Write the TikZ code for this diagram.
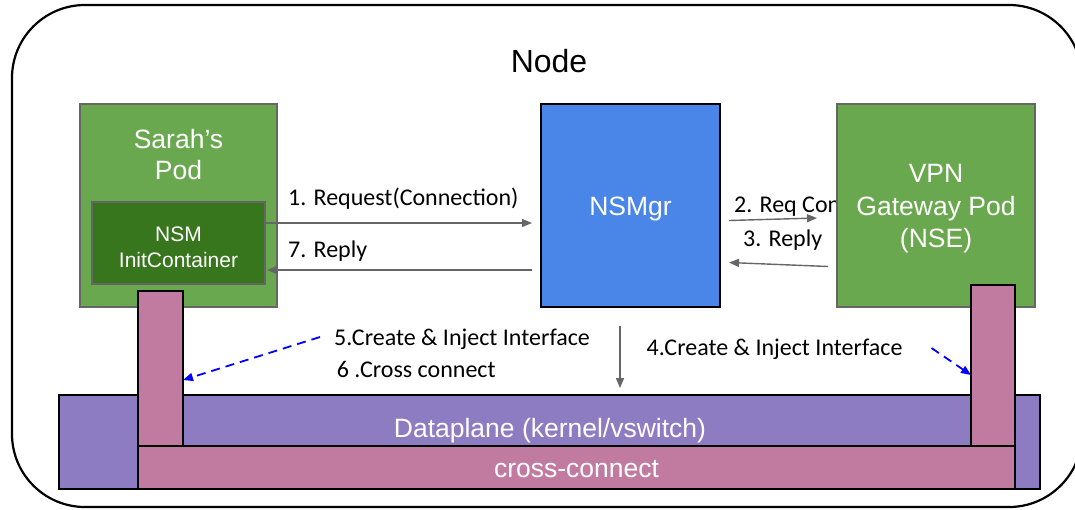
\documentclass[tikz,border=0pt]{standalone}
\usepackage{fontspec}
\setmainfont{Liberation Sans}
\newfontfamily\calibrifont{Carlito}
\usetikzlibrary{arrows.meta,calc}
\definecolor{podgreen}{HTML}{6AA84F}
\definecolor{initgreen}{HTML}{38761D}
\definecolor{mgrblue}{HTML}{4A86E8}
\definecolor{dppurple}{HTML}{8E7CC3}
\definecolor{xcpink}{HTML}{C27BA0}
\definecolor{edgegray}{HTML}{666666}
\begin{document}
\begin{tikzpicture}[x=1pt,y=-1pt,
  blockbox/.style={rectangle, inner sep=0pt, outer sep=0pt, anchor=north west},
  podbox/.style={blockbox, fill=podgreen, draw=edgegray, line width=1.3pt},
  initbox/.style={blockbox, fill=initgreen, draw=edgegray, line width=1.3pt},
  mgrbox/.style={blockbox, fill=mgrblue, draw=black, line width=1.5pt},
  planebox/.style={blockbox, fill=dppurple, draw=black, line width=1.8pt},
  xcbox/.style={blockbox, fill=xcpink, draw=black, line width=1.8pt},
  bigtext/.style={text=white, inner sep=0pt, anchor=base, font=\fontsize{26.5}{30}\selectfont},
  smalltext/.style={text=white, inner sep=0pt, anchor=base, font=\fontsize{21}{24}\selectfont},
  steplabel/.style={inner sep=0pt, anchor=base west, font=\calibrifont\fontsize{24}{27}\selectfont},
  flowarrow/.style={draw=edgegray, line width=1.4pt, -{Triangle[length=10pt,width=8pt]}},
  injectarrow/.style={draw=blue, line width=1.8pt, dash pattern=on 9pt off 6pt, -{Triangle[length=10pt,width=8pt]}}
]
\useasboundingbox (0,0) rectangle (1075,509);

% host frame
\draw[line width=2.2pt, rounded corners=73pt] (12,5) rectangle (1082,507);
\node[inner sep=0pt, anchor=base, font=\fontsize{32}{36}\selectfont] (title) at (549,72) {Node};

% dataplane and cross-connect
\node[planebox, minimum width=981pt, minimum height=94pt] (dataplane) at (59,395) {};
\node[bigtext] (dptext) at (550,437) {Dataplane (kernel/vswitch)};

% pods and manager
\node[podbox, minimum width=197pt, minimum height=203pt] (sarah) at (80,104) {};
\node[bigtext] (sarah1) at (178.5,148) {Sarah’s};
\node[bigtext] (sarah2) at (178.5,179) {Pod};
\node[initbox, minimum width=173pt, minimum height=82pt] (nsminit) at (92,202) {};
\node[smalltext] (init1) at (178.5,241) {NSM};
\node[smalltext] (init2) at (178.5,267) {InitContainer};

\node[mgrbox, minimum width=179pt, minimum height=203pt] (nsmgr) at (541,104) {};
\node[bigtext] (mgrtext) at (630.5,215) {NSMgr};

\node[steplabel] (l2) at (734,212.7) {2. Req Con};

\node[podbox, minimum width=198pt, minimum height=203pt] (vpn) at (837,104) {};
\node[bigtext] (vpn1) at (936,182) {VPN};
\node[bigtext] (vpn2) at (936,215) {Gateway Pod};
\node[bigtext] (vpn3) at (936,247) {(NSE)};

% interfaces
\node[xcbox, minimum width=45pt, minimum height=155pt] (leftif) at (138,291) {};
\node[xcbox, minimum width=44pt, minimum height=161pt] (rightif) at (971,285) {};
\node[xcbox, minimum width=877pt, minimum height=43pt] (xconn) at (138,446) {};
\node[bigtext] (xctext) at (576.5,477) {cross-connect};

% step labels
\node[steplabel] (l1) at (288,205) {1. Request(Connection)};
\node[steplabel] (l7) at (288,257) {7. Reply};
\node[steplabel] (l3) at (743,246.7) {3. Reply};
\node[steplabel] (l5) at (334,345) {5.Create \& Inject Interface};
\node[steplabel] (l6) at (336.7,377) {6 .Cross connect};
\node[steplabel] (l4) at (646.5,355) {4.Create \& Inject Interface};

% control flow
\draw[flowarrow] (nsminit.east |- 0,223) -- ($(nsmgr.west |- 0,223)+(-9,0)$);
\draw[flowarrow] ($(nsmgr.west |- 0,270)+(-9,0)$) -- ($(nsminit.east |- 0,270)+(2,0)$);
\draw[flowarrow] ($(nsmgr.east)+(9,15)$) -- ($(vpn.west)+(-20,12.5)$);
\draw[flowarrow] ($(vpn.west)+(-9,61)$) -- ($(nsmgr.east)+(9,57)$);
\draw[flowarrow] ($(nsmgr.south)+(-10.5,19)$) -- ($(nsmgr.south |- dataplane.north)+(-10.5,-7)$);

% interface injection
\draw[injectarrow] ($(leftif.east)+(137,-31.5)$) -- ($(leftif.east)+(0,11.5)$);
\draw[injectarrow] ($(rightif.west)+(-39.5,-17.5)$) -- ($(rightif.west)+(0,9.5)$);
\end{tikzpicture}
\end{document}
